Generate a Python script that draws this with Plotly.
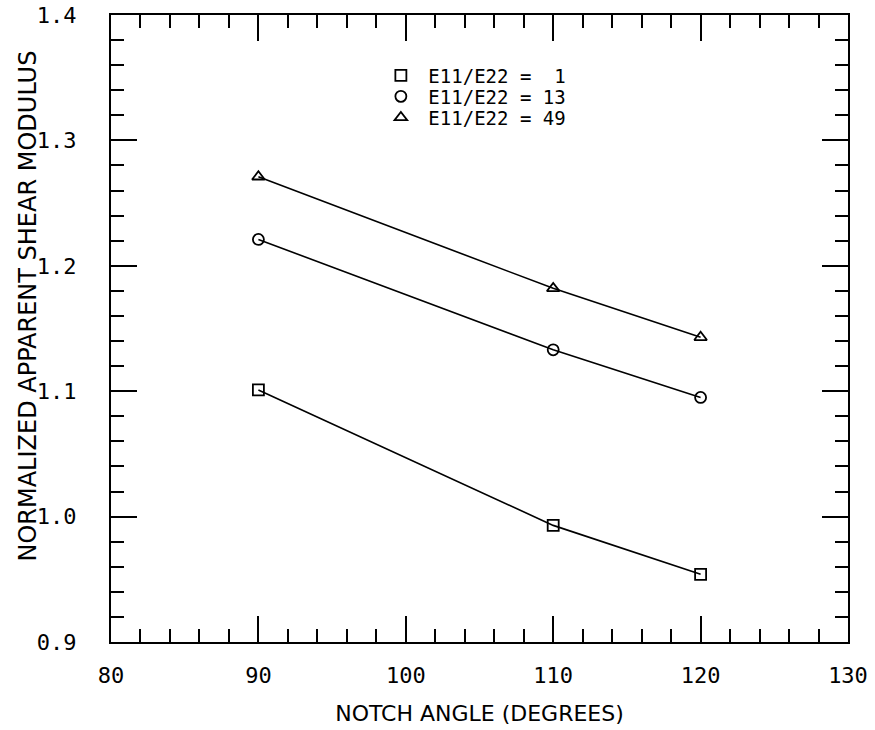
import plotly.graph_objects as go

notch_angle = [90, 110, 120]
g_ratio_1 = [1.101, 0.993, 0.954]
g_ratio_13 = [1.221, 1.133, 1.095]
g_ratio_49 = [1.271, 1.182, 1.143]
series_names = ["E11/E22 =\u00a0\u00a01", "E11/E22 = 13", "E11/E22 = 49"]
series_symbols = ["square-open", "circle-open", "triangle-up-open"]
x_ticks = [80, 90, 100, 110, 120, 130]
y_ticks = [0.9, 1.0, 1.1, 1.2, 1.3, 1.4]
x_title = "NOTCH ANGLE (DEGREES)"
y_title = "NORMALIZED APPARENT SHEAR MODULUS"

mono = "DejaVu Sans Mono"
legend_ids = ["legend", "legend2", "legend3"]
legend_y = [0.9035, 0.870, 0.8365]

fig = go.Figure()
for vals, name, sym, lid in zip([g_ratio_1, g_ratio_13, g_ratio_49], series_names, series_symbols, legend_ids):
    fig.add_trace(go.Scatter(x=notch_angle, y=vals, mode="lines", showlegend=False,
                             line=dict(color="black", width=1.6), hoverinfo="skip"))
    fig.add_trace(go.Scatter(x=notch_angle, y=vals, mode="markers", name=name, legend=lid,
                             marker=dict(symbol=sym, size=11, color="black",
                                         line=dict(color="black", width=1.8))))

legend_style = dict(xanchor="left", yanchor="middle", bgcolor="rgba(0,0,0,0)",
                    font=dict(family=mono, size=19, color="black"), itemwidth=45)
layout_legends = {lid: dict(x=0.356, y=ly, **legend_style) for lid, ly in zip(legend_ids, legend_y)}

fig.update_layout(
    width=875, height=730,
    margin=dict(l=111, r=27, t=15, b=88, autoexpand=False),
    paper_bgcolor="white", plot_bgcolor="white",
    font=dict(family="DejaVu Sans", color="black"),
    annotations=[dict(text=y_title, textangle=-90, xref="paper", yref="paper",
                      x=0, y=0.535, xshift=-83, showarrow=False,
                      xanchor="center", yanchor="middle",
                      font=dict(family="DejaVu Sans", size=24, color="black"))],
    **layout_legends,
)
fig.update_xaxes(range=[80, 130], tickmode="array", tickvals=x_ticks, ticks="inside", ticklen=26, tickwidth=2,
                 tickcolor="black", showline=True, linewidth=2, linecolor="black", mirror="ticks",
                 showgrid=False, zeroline=False, automargin=False,
                 tickfont=dict(family=mono, size=22), ticklabelstandoff=13,
                 minor=dict(tickmode="linear", tick0=80, dtick=2, ticks="inside", ticklen=13, tickwidth=2,
                            tickcolor="black", showgrid=False),
                 title=dict(text=x_title, font=dict(family="DejaVu Sans", size=22), standoff=18))
fig.update_yaxes(range=[0.9, 1.4], tickmode="array", tickvals=y_ticks, tickformat=".1f", ticks="inside",
                 ticklen=26, tickwidth=2, tickcolor="black", showline=True, linewidth=2, linecolor="black",
                 mirror="ticks", showgrid=False, zeroline=False, automargin=False,
                 tickfont=dict(family=mono, size=22), ticklabelstandoff=28,
                 minor=dict(tickmode="linear", tick0=0.9, dtick=0.02, ticks="inside", ticklen=13, tickwidth=2,
                            tickcolor="black", showgrid=False))

fig.write_html("out.html", config={"displayModeBar": False},
               post_script="document.body.style.margin='0';document.body.style.padding='0';")
